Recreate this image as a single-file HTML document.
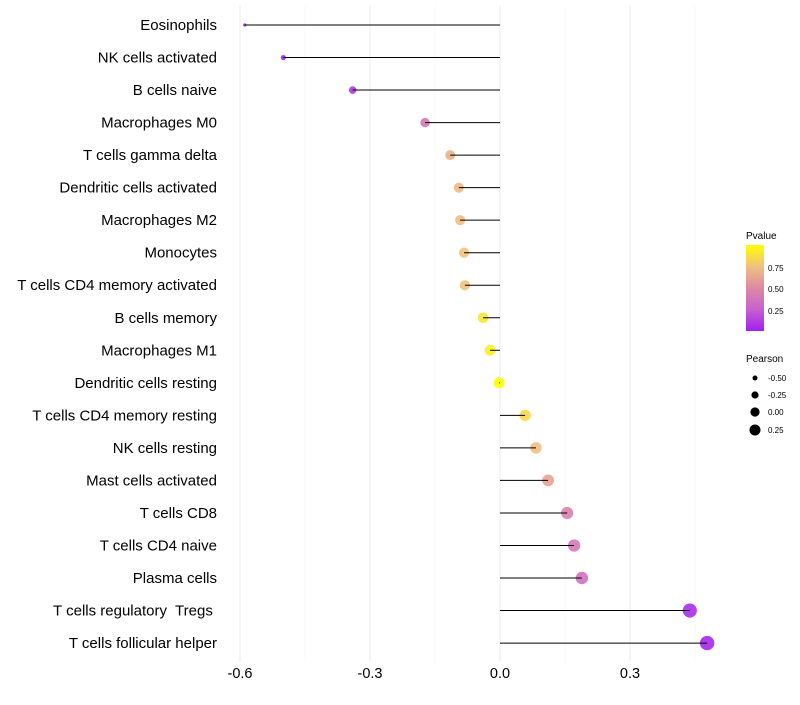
<!DOCTYPE html>
<html><head><meta charset="utf-8"><style>
body{margin:0;background:#fff;font-family:"Liberation Sans",sans-serif}
svg text{font-family:"Liberation Sans",sans-serif;white-space:pre}
</style></head><body>
<svg id="c" width="800" height="700" xmlns="http://www.w3.org/2000/svg">
<defs><linearGradient id="pg" x1="0" y1="1" x2="0" y2="0">
<stop offset="0" stop-color="#a020f0"/><stop offset="0.25" stop-color="#c860d0"/><stop offset="0.5" stop-color="#dc8aa4"/><stop offset="0.75" stop-color="#f0c080"/><stop offset="1" stop-color="#ffff00"/></linearGradient></defs>
<g id="grid"></g><g id="marks"></g><g id="labels"></g>
<g>
<text x="746" y="239" font-size="10">Pvalue</text>
<rect x="746" y="245" width="18" height="86" fill="url(#pg)"/>
<text x="768" y="271" font-size="8">0.75</text><text x="768" y="292" font-size="8">0.50</text><text x="768" y="314" font-size="8">0.25</text>
</g>
<g>
<text x="746" y="362" font-size="10">Pearson</text>
<circle cx="755" cy="378" r="2.5"/><text x="768" y="381" font-size="8">-0.50</text>
<circle cx="755" cy="395" r="3.6"/><text x="768" y="398" font-size="8">-0.25</text>
<circle cx="755" cy="412" r="4.6"/><text x="768" y="415" font-size="8">0.00</text>
<circle cx="755" cy="430" r="5.5"/><text x="768" y="433" font-size="8">0.25</text>
</g>
</svg>
<script>
const categories=["Eosinophils","NK cells activated","B cells naive","Macrophages M0","T cells gamma delta","Dendritic cells activated","Macrophages M2","Monocytes","T cells CD4 memory activated","B cells memory","Macrophages M1","Dendritic cells resting","T cells CD4 memory resting","NK cells resting","Mast cells activated","T cells CD8","T cells CD4 naive","Plasma cells","T cells regulatory  Tregs ","T cells follicular helper"];
const pearson=[-0.589,-0.50,-0.34,-0.173,-0.115,-0.095,-0.092,-0.083,-0.081,-0.039,-0.023,-0.002,0.058,0.083,0.111,0.155,0.171,0.189,0.438,0.478];
const pvalue=[0.0,0.02,0.1,0.4,0.68,0.72,0.74,0.76,0.76,0.9,0.95,1.0,0.85,0.75,0.62,0.45,0.4,0.35,0.05,0.03];
const xTicks=[-0.6,-0.3,0.0,0.3];
const NS="http://www.w3.org/2000/svg";
const x=v=>500+v*433.33;
const y=i=>25+i*32.53;
const pMin=Math.min(...pearson),pMax=Math.max(...pearson);
const rScale=p=>{const t=(p-pMin)/(pMax-pMin);return Math.sqrt(2.6+t*(52-2.6));};
const stops=[[0,[160,32,240]],[0.25,[200,96,208]],[0.5,[220,138,164]],[0.75,[240,192,128]],[1,[255,255,0]]];
function col(p){p=Math.max(0,Math.min(1,p));for(let k=1;k<stops.length;k++){if(p<=stops[k][0]){const a=stops[k-1],b=stops[k],t=(p-a[0])/(b[0]-a[0]);return 'rgb('+a[1].map((c,j)=>Math.round(c+(b[1][j]-c)*t)).join(',')+')';}}return 'rgb(255,255,0)';}
function mk(t,at,parent){const e=document.createElementNS(NS,t);for(const k in at)e.setAttribute(k,at[k]);document.getElementById(parent).appendChild(e);return e;}
[-0.45,-0.15,0.15,0.45].forEach(v=>{const g=mk('line',{x1:x(v),x2:x(v),y1:5,y2:662,stroke:'#f4f4f4','stroke-width':0.6},'grid');

});
xTicks.forEach(v=>{const g=mk('line',{x1:x(v),x2:x(v),y1:5,y2:662,stroke:'#ebebeb','stroke-width':1},'grid');


const t=mk('text',{x:x(v),y:678,'font-size':14.5,'text-anchor':'middle',fill:'#000'},'labels');t.textContent=v.toFixed(1);

});
categories.forEach((c,i)=>{
const d=mk('circle',{cx:x(pearson[i]),cy:y(i),r:rScale(pearson[i]),fill:col(pvalue[i]),'fill-opacity':0.9},'marks');


const l=mk('line',{x1:x(0),x2:x(pearson[i]),y1:y(i),y2:y(i),stroke:'#000','stroke-width':1},'marks');


const t=mk('text',{x:217,y:y(i)+5,'font-size':15,'text-anchor':'end',fill:'#000'},'labels');t.textContent=c;

});
</script>
</body></html>
